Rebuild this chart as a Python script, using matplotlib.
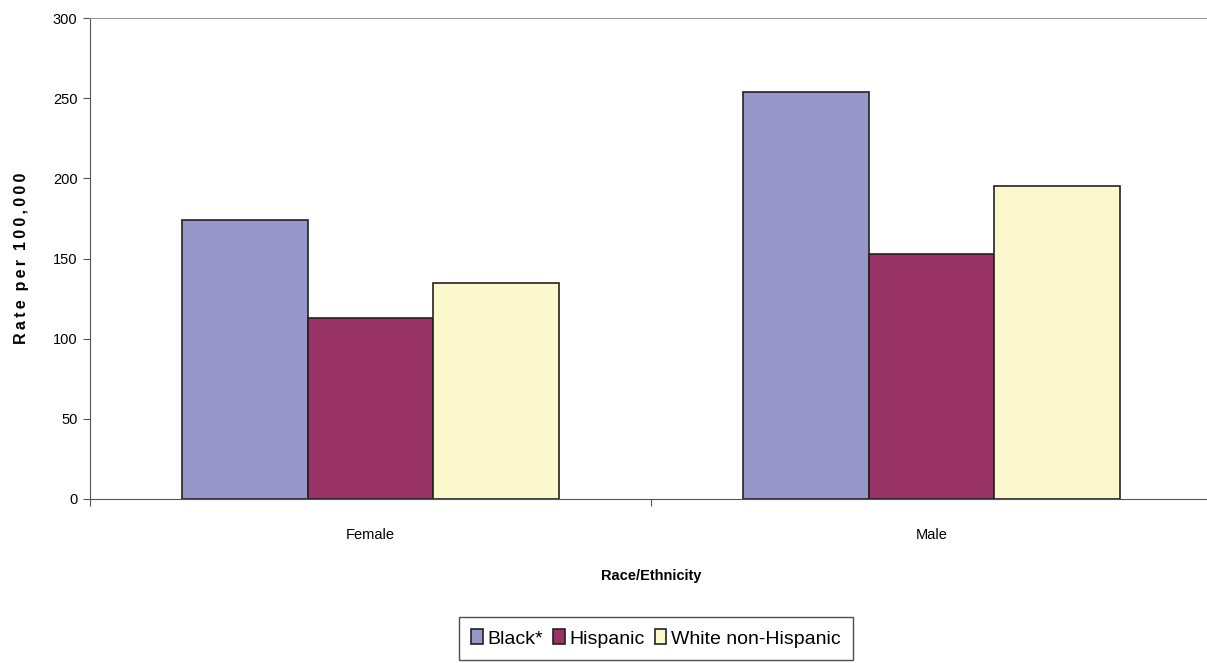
import matplotlib.pyplot as plt
import numpy as np

plt.rcParams['font.family'] = ['Liberation Sans', 'DejaVu Sans']

categories = ['Female', 'Male']
series = ['Black*', 'Hispanic', 'White non-Hispanic']
black = [174, 254]
hispanic = [113, 152.5]
white = [134.5, 195.5]
colors = ['#9797C9', '#993366', '#FCF8CE']

fig = plt.figure(figsize=(12.07, 6.63), dpi=100)
ax = fig.add_axes([90/1207, 1 - 499/663, 1122/1207, 481/663])

x = np.arange(len(categories))
w = 0.2245
for i, (vals, name) in enumerate(zip([black, hispanic, white], series)):
    ax.bar(x + (i - 1) * w, vals, w, color=colors[i], edgecolor='#222222',
           linewidth=1.2, label=name)

ax.set_xlim(-0.5, 1.5)
ax.set_ylim(0, 300)
ax.set_yticks(range(0, 301, 50))
ax.set_xticks([-0.5, 0.5, 1.5])
ax.set_xticklabels([])
ax.set_xticks(x, minor=True)
ax.set_xticklabels(categories, minor=True)
ax.tick_params(axis='x', which='minor', length=0, pad=21, labelsize=10.5)
ax.tick_params(axis='x', which='major', length=5, color='#555555')
ax.tick_params(axis='y', length=5, color='#555555', labelsize=10.5, pad=4)

ax.spines['right'].set_visible(False)
ax.spines['top'].set_color('#999999')
ax.spines['left'].set_color('#555555')
ax.spines['bottom'].set_color('#555555')

ax.set_xlabel('Race/Ethnicity', fontsize=10.5, fontweight='bold', labelpad=19)
ylab = '  '.join('\u2009'.join(word) for word in ['Rate', 'per', '100,000'])
ax.set_ylabel(ylab, fontsize=11.5, fontweight='bold', labelpad=17)

leg = fig.legend(loc='center', bbox_to_anchor=(656/1207, 1 - 638.5/663), ncol=3,
                 fontsize=14, frameon=True, fancybox=False, handlelength=0.6,
                 handleheight=0.8, handletextpad=0.25, columnspacing=0.5,
                 borderpad=0.65, borderaxespad=0)
leg.get_frame().set_edgecolor('#222222')
leg.get_frame().set_linewidth(1.0)

fig.savefig('out.png', dpi=100)
